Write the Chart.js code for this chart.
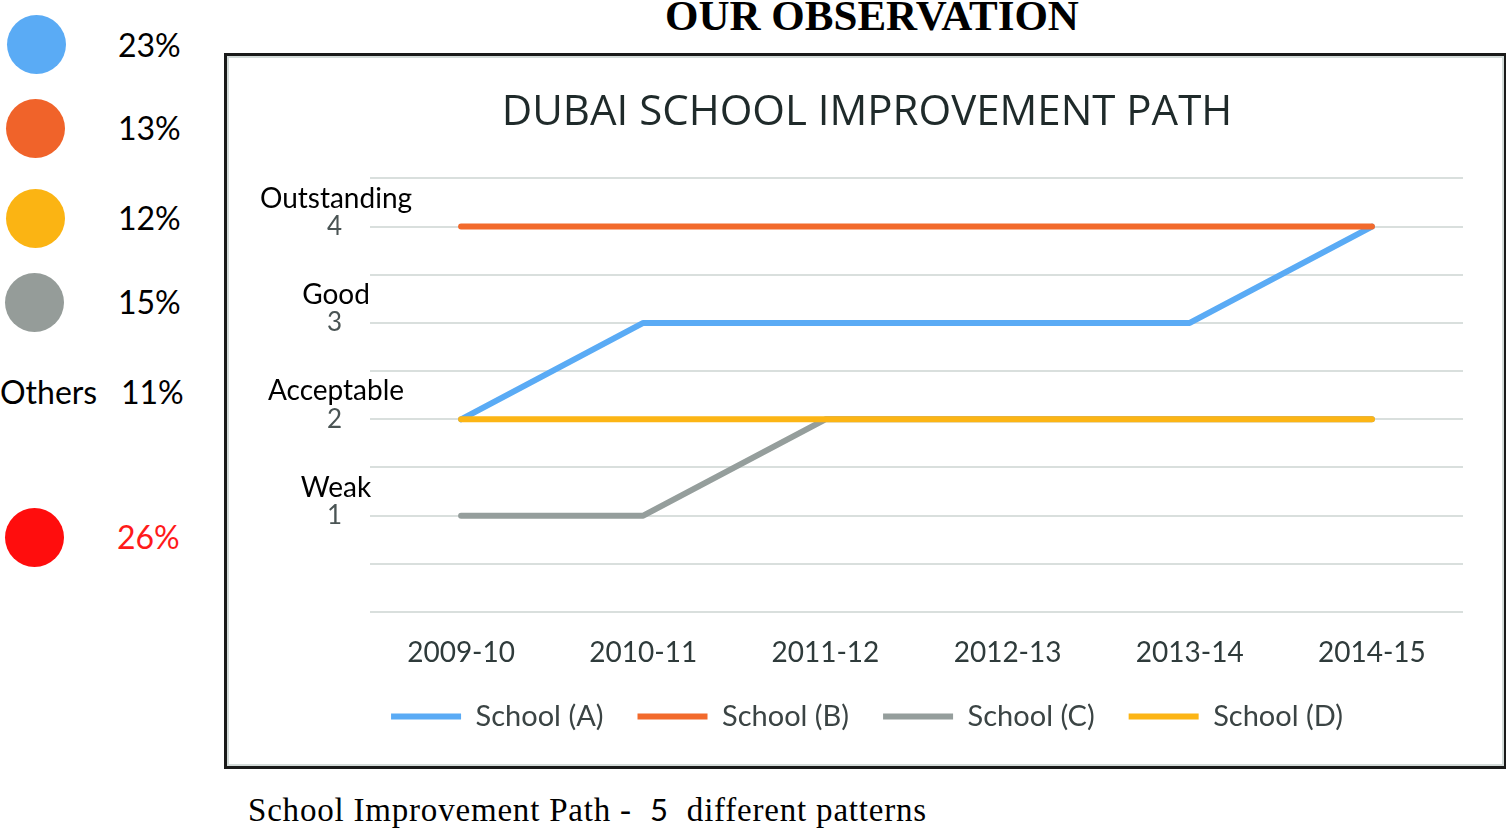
<!DOCTYPE html>
<html>
<head>
<meta charset="utf-8">
<title>Our Observation</title>
<script src="https://cdn.jsdelivr.net/npm/chart.js@4.4.1/dist/chart.umd.min.js"></script>
<style>
  html, body { margin: 0; padding: 0; background: #fff; }
  body { width: 1506px; height: 831px; position: relative; overflow: hidden; font-family: Lato, sans-serif; }
  .abs { position: absolute; white-space: nowrap; }
  .dot { position: absolute; width: 59px; height: 59px; border-radius: 50%; }
  .pct { position: absolute; font-size: 32px; line-height: 40px; color: #000; }
  #mainTitle { left: 0; width: 1744px; top: -9px; text-align: center; font-family: "Liberation Serif", serif; font-weight: bold; font-size: 43px; line-height: 50px; }
  #box { position: absolute; left: 224px; top: 53px; width: 1277px; height: 710px; border: 3px solid #1a1a1a; }
  #inner { position: absolute; left: 0; top: 0; right: 0; bottom: 0; border: 2px solid #d3dbd9; }
  #chartWrap { position: absolute; left: 2px; top: 2px; width: 1269px; height: 702px; }
  #caption { left: 248px; top: 789px; font-family: "Liberation Serif", serif; font-size: 33px; letter-spacing: 0.8px; line-height: 40px; color: #000; }
</style>
</head>
<body>
<div id="mainTitle" class="abs">OUR OBSERVATION</div>

<div class="dot" style="left:7px;top:15px;background:#5aabf5"></div>
<div class="dot" style="left:6px;top:99px;background:#f0632a"></div>
<div class="dot" style="left:6px;top:189px;background:#fbb413"></div>
<div class="dot" style="left:5px;top:273px;background:#959c99"></div>
<div class="dot" style="left:5px;top:508px;background:#ff0d0d"></div>

<div class="pct" style="left:118px;top:25px">23%</div>
<div class="pct" style="left:118px;top:108px">13%</div>
<div class="pct" style="left:118px;top:198px">12%</div>
<div class="pct" style="left:118px;top:282px">15%</div>
<div class="pct" style="left:0px;top:372px">Others</div>
<div class="pct" style="left:121px;top:372px">11%</div>
<div class="pct" style="left:117px;top:517px;color:#ff1a1a">26%</div>

<div id="box"><div id="inner"></div>
  <div id="chartWrap"><canvas id="pathChart"></canvas></div>
</div>

<div id="caption" class="abs">School Improvement Path -&nbsp; <span style="font-family:Lato,sans-serif;font-size:31px">5</span>&nbsp; different patterns</div>

<script>
// Data
const years = ['2009-10', '2010-11', '2011-12', '2012-13', '2013-14', '2014-15'];
const schoolA = [2, 3, 3, 3, 3, 4];
const schoolB = [4, 4, 4, 4, 4, 4];
const schoolC = [1, 1, 2, 2, 2, 2];
const schoolD = [2, 2, 2, 2, 2, 2];
const schoolNames = ['School (A)', 'School (B)', 'School (C)', 'School (D)'];
const ratingNames = { 1: 'Weak', 2: 'Acceptable', 3: 'Good', 4: 'Outstanding' };

const seriesColors = ['#5aabf5', '#f26a2c', '#959e9c', '#fcb515'];

// Words above the numeric y ticks
const ratingWords = {
  id: 'ratingWords',
  afterDraw(chart) {
    const ctx = chart.ctx;
    const y = chart.scales.y;
    ctx.save();
    ctx.fillStyle = '#000';
    ctx.font = '28px Lato, sans-serif';
    ctx.textAlign = 'center';
    ctx.textBaseline = 'middle';
    Object.keys(ratingNames).forEach(function(v) {
      ctx.fillText(ratingNames[v], 107, y.getPixelForValue(Number(v)) - 28);
    });
    ctx.restore();
  }
};

function makeSet(i, data, order) {
  return {
    label: schoolNames[i],
    data: data,
    borderColor: seriesColors[i],
    backgroundColor: seriesColors[i],
    borderWidth: 6,
    borderCapStyle: 'round',
    borderJoinStyle: 'round',
    pointRadius: 0,
    tension: 0,
    order: order
  };
}

const ctx = document.getElementById('pathChart').getContext('2d');
const pathChart = new Chart(ctx, {
  type: 'line',
  data: {
    labels: years,
    datasets: [
      makeSet(0, schoolA, 3),
      makeSet(1, schoolB, 2),
      makeSet(2, schoolC, 1),
      makeSet(3, schoolD, 0)
    ]
  },
  options: {
    responsive: true,
    maintainAspectRatio: false,
    animation: false,
    layout: { padding: { left: 42, right: 35, top: 0, bottom: 19 } },
    plugins: {
      title: {
        display: true,
        text: 'DUBAI SCHOOL IMPROVEMENT PATH',
        color: '#1f2a2a',
        font: { family: '"Open Sans", sans-serif', size: 42, weight: 'normal' },
        padding: { top: 30, bottom: 40 }
      },
      legend: {
        position: 'bottom',
        labels: {
          usePointStyle: true,
          pointStyle: 'line',
          pointStyleWidth: 70,
          color: '#3b4444',
          font: { family: 'Lato, sans-serif', size: 29 },
          padding: 34,
          sort: function(a, b) { return a.datasetIndex - b.datasetIndex; }
        }
      },
      tooltip: { enabled: false }
    },
    scales: {
      x: {
        offset: true,
        grid: { display: false },
        border: { display: false },
        afterFit: function(scale) { scale.height = 56; },
        ticks: {
          color: '#2f3b3b',
          font: { family: 'Lato, sans-serif', size: 28 },
          padding: 16
        }
      },
      y: {
        min: 0,
        max: 4.5,
        border: { display: false },
        grid: { color: '#d9dfdd', lineWidth: 2, drawTicks: false },
        afterFit: function(scale) { scale.width = 99; },
        ticks: {
          stepSize: 0.5,
          color: '#4a5454',
          font: { family: 'Lato, sans-serif', size: 26 },
          padding: 28,
          callback: function(value) {
            return Number.isInteger(value) && value > 0 ? String(value) : '';
          }
        }
      }
    }
  },
  plugins: [ratingWords]
});
</script>
</body>
</html>
